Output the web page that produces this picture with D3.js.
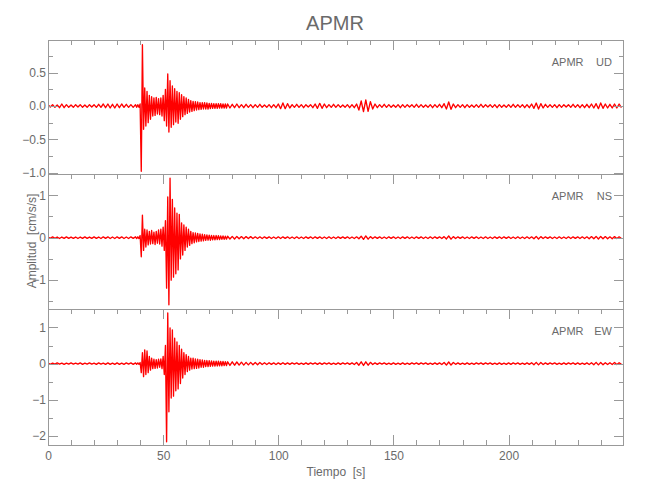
<!DOCTYPE html>
<html>
<head>
<meta charset="utf-8">
<script src="https://cdn.jsdelivr.net/npm/d3@7"></script>
<style>
body { margin: 0; background: #fff; }
svg text { font-family: "Liberation Sans Narrow", "Liberation Sans", sans-serif; fill: #6a6a6a; font-size: 12px; }
.eje path { display: none; }
.eje line { stroke: #999; shape-rendering: crispEdges; }
.marco { fill: none; stroke: #999; shape-rendering: crispEdges; }
.traza { fill: none; stroke: #ff0000; stroke-width: 1.35; stroke-linejoin: round; }
</style>
</head>
<body>
<div id="grafico"></div>
<script>
var estacion = "APMR";
var componentes = ["UD", "NS", "EW"];

// aceleraciones leidas del registro (cm/s/s): ruido previo t=0..37 (1 s),
// evento t=38..77.5 (0.5 s), ruido posterior t=78..249 (1 s)
var udRuido1 = [0.02,-0.015,0.02,-0.02,0.015,-0.025,0.03,-0.025,0.02,-0.02,
    0.015,-0.02,0.02,-0.015,0.02,-0.02,0.015,-0.02,0.02,-0.015,
    0.02,-0.02,0.025,-0.02,0.03,-0.025,0.03,-0.03,0.025,-0.03,
    0.03,-0.025,0.03,-0.02,0.025,-0.02,0.02,-0.02];
var udEvento = [0.02,-0.02,0.02,-0.02,0.03,-0.98,0.92,-0.35,0.27,-0.3,
    0.22,-0.25,0.16,-0.2,0.14,-0.15,0.12,-0.14,0.13,-0.12,
    0.11,-0.13,0.12,-0.15,0.16,-0.22,0.25,-0.3,0.48,-0.39,
    0.38,-0.32,0.3,-0.28,0.26,-0.24,0.22,-0.26,0.2,-0.2,
    0.17,-0.16,0.14,-0.13,0.12,-0.11,0.1,-0.09,0.08,-0.08,
    0.07,-0.07,0.065,-0.06,0.06,-0.055,0.05,-0.05,0.05,-0.045,
    0.05,-0.045,0.045,-0.045,0.04,-0.04,0.04,-0.035,0.035,-0.035,
    0.035,-0.035,0.035,-0.03,0.035,-0.03,0.03,-0.03,0.03,-0.03];
var udRuido2 = [0.03,-0.03,0.025,-0.025,0.03,-0.025,0.02,-0.025,0.025,-0.02,
    0.02,-0.025,0.02,-0.02,0.025,-0.02,0.015,-0.02,0.02,-0.025,
    0.02,-0.025,0.03,-0.04,0.045,-0.04,0.035,-0.03,0.02,-0.02,
    0.025,-0.02,0.02,-0.025,0.02,-0.015,0.02,-0.025,0.03,-0.035,
    0.04,-0.035,0.03,-0.025,0.02,-0.02,0.025,-0.02,0.02,-0.02,
    0.015,-0.02,0.02,-0.025,0.02,-0.025,0.03,-0.06,0.075,-0.085,
    0.09,-0.08,0.065,-0.045,0.03,-0.025,0.02,-0.02,0.025,-0.02,
    0.02,-0.02,0.015,-0.02,0.02,-0.025,0.02,-0.02,0.02,-0.015,
    0.02,-0.02,0.025,-0.02,0.02,-0.02,0.015,-0.02,0.02,-0.025,
    0.02,-0.02,0.025,-0.025,0.035,-0.045,0.06,-0.05,0.03,-0.025,
    0.02,-0.02,0.02,-0.025,0.02,-0.02,0.015,-0.02,0.02,-0.02,
    0.025,-0.02,0.02,-0.015,0.02,-0.02,0.02,-0.025,0.02,-0.02,
    0.015,-0.02,0.02,-0.02,0.025,-0.02,0.02,-0.02,0.02,-0.025,
    0.02,-0.025,0.03,-0.035,0.045,-0.045,0.035,-0.03,0.025,-0.02,
    0.02,-0.02,0.02,-0.025,0.02,-0.02,0.02,-0.015,0.02,-0.02,
    0.025,-0.02,0.02,-0.025,0.02,-0.025,0.025,-0.025,0.03,-0.03,
    0.035,-0.04,0.045,-0.035,0.03,-0.03,0.025,-0.03,0.03,-0.03,
    0.03,-0.025];

var nsRuido1 = [0.015,-0.015,0.02,-0.015,0.015,-0.02,0.015,-0.015,0.02,-0.015,
    0.015,-0.015,0.015,-0.02,0.015,-0.015,0.02,-0.015,0.015,-0.015,
    0.02,-0.015,0.015,-0.02,0.02,-0.015,0.02,-0.02,0.015,-0.02,
    0.02,-0.015,0.02,-0.02,0.015,-0.02,0.02,-0.015];
var nsEvento = [0.02,-0.02,0.02,-0.02,0.05,-0.45,0.53,-0.3,0.2,-0.22,
    0.18,-0.17,0.15,-0.15,0.17,-0.14,0.13,-0.16,0.15,-0.13,
    0.18,-0.15,0.2,-0.2,0.25,-0.3,0.4,-1.19,0.96,-1.58,
    1.4,-1.0,0.9,-0.93,0.7,-0.85,0.58,-0.76,0.55,-0.5,
    0.35,-0.41,0.3,-0.3,0.25,-0.22,0.2,-0.18,0.15,-0.14,
    0.12,-0.12,0.11,-0.1,0.1,-0.09,0.09,-0.08,0.08,-0.075,
    0.07,-0.065,0.065,-0.06,0.06,-0.06,0.055,-0.05,0.05,-0.05,
    0.05,-0.045,0.045,-0.045,0.04,-0.04,0.04,-0.04,0.035,-0.035];
var nsRuido2 = [0.035,-0.03,0.03,-0.03,0.03,-0.025,0.025,-0.025,0.025,-0.02,
    0.025,-0.02,0.02,-0.02,0.02,-0.02,0.02,-0.015,0.02,-0.02,
    0.015,-0.02,0.02,-0.02,0.02,-0.015,0.02,-0.02,0.015,-0.02,
    0.02,-0.02,0.015,-0.02,0.02,-0.015,0.02,-0.02,0.02,-0.015,
    0.02,-0.02,0.015,-0.02,0.02,-0.02,0.015,-0.02,0.02,-0.015,
    0.02,-0.015,0.02,-0.02,0.015,-0.02,0.02,-0.025,0.035,-0.04,
    0.04,-0.035,0.025,-0.02,0.02,-0.015,0.02,-0.02,0.015,-0.02,
    0.02,-0.015,0.02,-0.02,0.015,-0.02,0.02,-0.015,0.02,-0.02,
    0.015,-0.02,0.02,-0.015,0.02,-0.02,0.015,-0.02,0.02,-0.02,
    0.02,-0.015,0.02,-0.02,0.025,-0.03,0.04,-0.035,0.025,-0.02,
    0.02,-0.015,0.02,-0.02,0.015,-0.02,0.02,-0.015,0.02,-0.02,
    0.015,-0.02,0.02,-0.02,0.015,-0.02,0.02,-0.015,0.02,-0.02,
    0.02,-0.015,0.02,-0.02,0.015,-0.02,0.02,-0.02,0.015,-0.02,
    0.02,-0.02,0.02,-0.025,0.03,-0.03,0.025,-0.02,0.02,-0.015,
    0.02,-0.02,0.015,-0.02,0.02,-0.02,0.015,-0.02,0.02,-0.02,
    0.02,-0.015,0.02,-0.02,0.02,-0.02,0.02,-0.025,0.025,-0.025,
    0.03,-0.03,0.03,-0.025,0.025,-0.025,0.02,-0.025,0.025,-0.02,
    0.02,-0.02];

var ewRuido1 = [0.015,-0.02,0.015,-0.015,0.02,-0.015,0.015,-0.02,0.015,-0.015,
    0.02,-0.015,0.015,-0.015,0.02,-0.02,0.015,-0.015,0.02,-0.015,
    0.015,-0.02,0.02,-0.015,0.015,-0.02,0.02,-0.02,0.015,-0.02,
    0.02,-0.02,0.015,-0.02,0.02,-0.015,0.02,-0.02];
var ewEvento = [0.02,-0.02,0.02,-0.02,0.03,-0.25,0.3,-0.36,0.38,-0.3,
    0.35,-0.25,0.2,-0.18,0.15,-0.14,0.12,-0.13,0.11,-0.12,
    0.12,-0.1,0.13,-0.14,0.2,-0.3,0.5,-2.16,1.4,-1.33,
    0.99,-0.95,0.93,-0.9,0.7,-0.75,0.6,-0.7,0.5,-0.55,
    0.4,-0.4,0.3,-0.3,0.25,-0.22,0.2,-0.18,0.15,-0.15,
    0.15,-0.14,0.13,-0.13,0.12,-0.12,0.11,-0.1,0.1,-0.1,
    0.09,-0.085,0.085,-0.08,0.08,-0.075,0.075,-0.07,0.07,-0.07,
    0.07,-0.065,0.065,-0.06,0.06,-0.06,0.06,-0.055,0.055,-0.055];
var ewRuido2 = [0.05,-0.05,0.05,-0.045,0.045,-0.04,0.04,-0.04,0.035,-0.035,
    0.035,-0.03,0.03,-0.03,0.03,-0.025,0.025,-0.025,0.025,-0.02,
    0.02,-0.025,0.02,-0.02,0.025,-0.02,0.02,-0.02,0.02,-0.015,
    0.02,-0.02,0.015,-0.02,0.02,-0.02,0.02,-0.015,0.02,-0.02,
    0.02,-0.02,0.02,-0.015,0.02,-0.02,0.015,-0.02,0.02,-0.02,
    0.02,-0.015,0.02,-0.02,0.02,-0.025,0.03,-0.045,0.05,-0.05,
    0.05,-0.045,0.035,-0.025,0.02,-0.02,0.02,-0.015,0.02,-0.02,
    0.015,-0.02,0.02,-0.02,0.015,-0.02,0.02,-0.02,0.015,-0.02,
    0.02,-0.015,0.02,-0.02,0.02,-0.015,0.02,-0.02,0.015,-0.02,
    0.02,-0.02,0.02,-0.025,0.03,-0.04,0.045,-0.04,0.03,-0.02,
    0.02,-0.02,0.015,-0.02,0.02,-0.02,0.015,-0.02,0.02,-0.015,
    0.02,-0.02,0.02,-0.015,0.02,-0.02,0.015,-0.02,0.02,-0.02,
    0.015,-0.02,0.02,-0.02,0.02,-0.015,0.02,-0.02,0.015,-0.02,
    0.02,-0.02,0.025,-0.03,0.035,-0.035,0.03,-0.025,0.02,-0.02,
    0.02,-0.015,0.02,-0.02,0.015,-0.02,0.02,-0.02,0.02,-0.015,
    0.02,-0.02,0.02,-0.02,0.015,-0.02,0.02,-0.025,0.025,-0.03,
    0.035,-0.035,0.03,-0.03,0.025,-0.025,0.025,-0.025,0.03,-0.025,
    0.025,-0.02];

var ticksX = [0, 50, 100, 150, 200];
var ticksXMenores = [10, 20, 30, 40, 60, 70, 80, 90, 110, 120, 130, 140, 160, 170, 180, 190, 210, 220, 230, 240];
var dominiosY = [[-1.02, 0.99], [-1.68, 1.5], [-2.25, 1.51]];
var ticksY = [[-1, -0.5, 0, 0.5], [-1, 0, 1], [-2, -1, 0, 1]];
var ticksYMenores = [[-0.75, -0.25, 0.25, 0.75], [-1.5, -0.5, 0.5], [-1.5, -0.5, 0.5]];
var formatosY = [d3.format(".1f"), d3.format("d"), d3.format("d")];

function serie(r1, ev, r2) {
    var d = [];
    r1.forEach(function (v, i) { d.push({t: i, v: v}); });
    ev.forEach(function (v, i) { d.push({t: 38 + i * 0.5, v: v}); });
    r2.forEach(function (v, i) { d.push({t: 78 + i, v: v}); });
    return d;
}

var datos = [serie(udRuido1, udEvento, udRuido2),
    serie(nsRuido1, nsEvento, nsRuido2),
    serie(ewRuido1, ewEvento, ewRuido2)];

var w = 650, h = 500;
var izq = 48, der = 623.5;
var arriba = [40, 174, 309];
var abajo = [174, 309, 445];

var svg = d3.select("#grafico").append("svg")
        .attr("width", w)
        .attr("height", h);

var x = d3.scaleLinear().domain([0, 249.9]).range([izq, der]);

componentes.forEach(function (comp, i) {
    var y = d3.scaleLinear().domain(dominiosY[i]).range([abajo[i], arriba[i]]);

    svg.append("clipPath")
            .attr("id", "clip-" + i)
            .append("rect")
            .attr("x", izq)
            .attr("y", arriba[i])
            .attr("width", der - izq)
            .attr("height", abajo[i] - arriba[i]);

    var linea = d3.line()
            .x(function (d) { return x(d.t); })
            .y(function (d) { return y(d.v); });

    svg.append("path")
            .datum(datos[i])
            .attr("class", "traza")
            .attr("clip-path", "url(#clip-" + i + ")")
            .attr("d", linea);

    svg.append("rect")
            .attr("class", "marco")
            .attr("x", izq)
            .attr("y", arriba[i])
            .attr("width", der - izq)
            .attr("height", abajo[i] - arriba[i]);

    // ejes izquierdo y derecho, marcas hacia dentro
    svg.append("g")
            .attr("class", "eje")
            .attr("transform", "translate(" + izq + ",0)")
            .call(d3.axisLeft(y).tickValues(ticksY[i]).tickSize(-10).tickPadding(2).tickFormat(formatosY[i]));
    svg.append("g")
            .attr("class", "eje")
            .attr("transform", "translate(" + izq + ",0)")
            .call(d3.axisLeft(y).tickValues(ticksYMenores[i]).tickSize(-5).tickFormat(""));
    svg.append("g")
            .attr("class", "eje")
            .attr("transform", "translate(" + der + ",0)")
            .call(d3.axisRight(y).tickValues(ticksY[i]).tickSize(-10).tickFormat(""));
    svg.append("g")
            .attr("class", "eje")
            .attr("transform", "translate(" + der + ",0)")
            .call(d3.axisRight(y).tickValues(ticksYMenores[i]).tickSize(-5).tickFormat(""));

    // eje superior de cada panel
    svg.append("g")
            .attr("class", "eje")
            .attr("transform", "translate(0," + arriba[i] + ")")
            .call(d3.axisTop(x).tickValues(ticksX).tickSize(-10).tickFormat(""));
    svg.append("g")
            .attr("class", "eje")
            .attr("transform", "translate(0," + arriba[i] + ")")
            .call(d3.axisTop(x).tickValues(ticksXMenores).tickSize(-5).tickFormat(""));

    svg.append("text")
            .attr("x", 583.5)
            .attr("y", arriba[i] + 26)
            .attr("text-anchor", "end")
            .style("font-size", "11px")
            .text(estacion);
    svg.append("text")
            .attr("x", 612)
            .attr("y", arriba[i] + 26)
            .attr("text-anchor", "end")
            .style("font-size", "11px")
            .text(comp);
});

// eje inferior
svg.append("g")
        .attr("class", "eje")
        .attr("transform", "translate(0," + abajo[2] + ")")
        .call(d3.axisBottom(x).tickValues(ticksX).tickSize(-10).tickPadding(6.5).tickFormat(d3.format("d")));
svg.append("g")
        .attr("class", "eje")
        .attr("transform", "translate(0," + abajo[2] + ")")
        .call(d3.axisBottom(x).tickValues(ticksXMenores).tickSize(-5).tickFormat(""));

svg.append("text")
        .attr("x", 335)
        .attr("y", 30)
        .attr("text-anchor", "middle")
        .style("font-size", "20px")
        .text(estacion);

svg.append("text")
        .attr("x", 336)
        .attr("y", 476)
        .attr("text-anchor", "middle")
        .style("white-space", "pre")
        .text("Tiempo  [s]");

svg.append("text")
        .attr("transform", "translate(36,241) rotate(-90)")
        .attr("text-anchor", "middle")
        .style("white-space", "pre")
        .text("Amplitud  [cm/s/s]");
</script>
</body>
</html>
